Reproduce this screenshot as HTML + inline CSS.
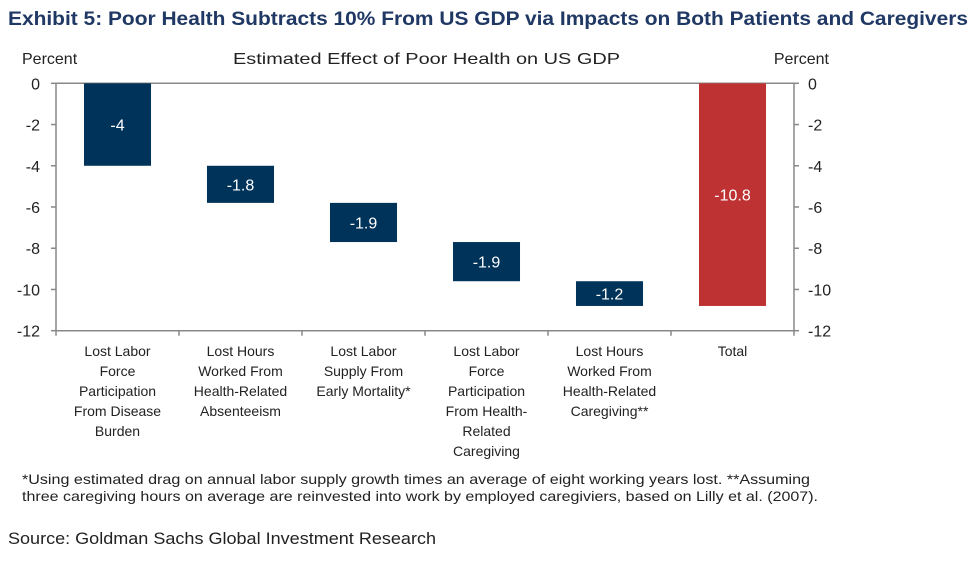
<!DOCTYPE html>
<html><head><meta charset="utf-8"><style>
body{margin:0;background:#fff;}
svg text{font-family:"Liberation Sans",sans-serif;}
</style></head><body>
<svg id="c" width="975" height="560" xmlns="http://www.w3.org/2000/svg">
<text x="8" y="25" font-size="19" font-weight="bold" fill="#1f3864" textLength="960" lengthAdjust="spacingAndGlyphs">Exhibit 5: Poor Health Subtracts 10% From US GDP via Impacts on Both Patients and Caregivers</text>
<text x="22" y="64" font-size="16" fill="#222">Percent</text>
<text x="233" y="64" font-size="16" fill="#222" textLength="387" lengthAdjust="spacingAndGlyphs">Estimated Effect of Poor Health  on US GDP</text>
<text x="829" y="64" font-size="16" fill="#222" text-anchor="end">Percent</text>
<g id="plot"></g>
<text x="22" y="484" font-size="14" fill="#222" textLength="788" lengthAdjust="spacingAndGlyphs">*Using estimated drag on annual labor supply growth times an average of eight working years lost. **Assuming</text>
<text x="22" y="501" font-size="14" fill="#222" textLength="796" lengthAdjust="spacingAndGlyphs">three caregiving hours on average are reinvested into work by employed caregiviers, based on Lilly et al. (2007).</text>
<text x="8" y="544" font-size="17" fill="#222" textLength="428" lengthAdjust="spacingAndGlyphs">Source: Goldman Sachs Global Investment Research</text>
</svg>
<script>
const categories=[["Lost Labor","Force","Participation","From Disease","Burden"],["Lost Hours","Worked From","Health-Related","Absenteeism"],["Lost Labor","Supply From","Early Mortality*"],["Lost Labor","Force","Participation","From Health-","Related","Caregiving"],["Lost Hours","Worked From","Health-Related","Caregiving**"],["Total"]];
const values=[-4,-1.8,-1.9,-1.9,-1.2];
const totalValue=-10.8;
const valueLabels=["-4","-1.8","-1.9","-1.9","-1.2","-10.8"];
const yTicks=[0,-2,-4,-6,-8,-10,-12];

const NS="http://www.w3.org/2000/svg";
const g=document.getElementById('plot');
const L=56,R=794,T=83.3,B=330.7;
const y=v=>T+(0-v)/(0-(-12))*(B-T);
const step=(R-L)/categories.length;
const bw=step*0.545;
function mk(tag,attrs){const e=document.createElementNS(NS,tag);for(const k in attrs)e.setAttribute(k,attrs[k]);g.appendChild(e);return e;}
let e=mk('line',{x1:L,y1:T,x2:R,y2:T,stroke:'#888','stroke-width':1.5});


e=mk('line',{x1:L,y1:T,x2:L,y2:B,stroke:'#888','stroke-width':1.5});


e=mk('line',{x1:R,y1:T,x2:R,y2:B,stroke:'#888','stroke-width':1.5});


e=mk('line',{x1:L,y1:B,x2:R,y2:B,stroke:'#888','stroke-width':1.5});


yTicks.forEach(t=>{
  const yy=y(t);
  mk('line',{x1:L-5,y1:yy,x2:L,y2:yy,stroke:'#888','stroke-width':1.5});
  mk('line',{x1:R,y1:yy,x2:R+5,y2:yy,stroke:'#888','stroke-width':1.5});
  let a=mk('text',{x:40,y:yy+6,'font-size':16,'text-anchor':'end',fill:'#222'});a.textContent=t;
  
  
  let b=mk('text',{x:808,y:yy+6,'font-size':16,fill:'#222'});b.textContent=t;
  
  
});
for(let i=0;i<=categories.length;i++){mk('line',{x1:L+i*step,y1:B,x2:L+i*step,y2:B+5,stroke:'#888','stroke-width':1.5});}
let cum=0;
categories.forEach((cat,i)=>{
  let top,bot,col;
  if(i<values.length){top=y(cum);cum+=values[i];bot=y(cum);col='#003359';}
  else{top=y(0);bot=y(totalValue);col='#bf3233';}
  const cx=L+step*(i+0.5);
  const r=mk('rect',{x:cx-bw/2,y:top,width:bw,height:bot-top,fill:col});
  
  
  const t=mk('text',{x:cx,y:(top+bot)/2+6,'font-size':16,'text-anchor':'middle',fill:'#fff'});
  t.textContent=valueLabels[i];
  
  
  cat.forEach((ln,j)=>{
    const c=mk('text',{x:cx,y:356+j*20,'font-size':14,'text-anchor':'middle',fill:'#222'});
    c.textContent=ln;
    
    
  });
});
</script>
</body></html>
